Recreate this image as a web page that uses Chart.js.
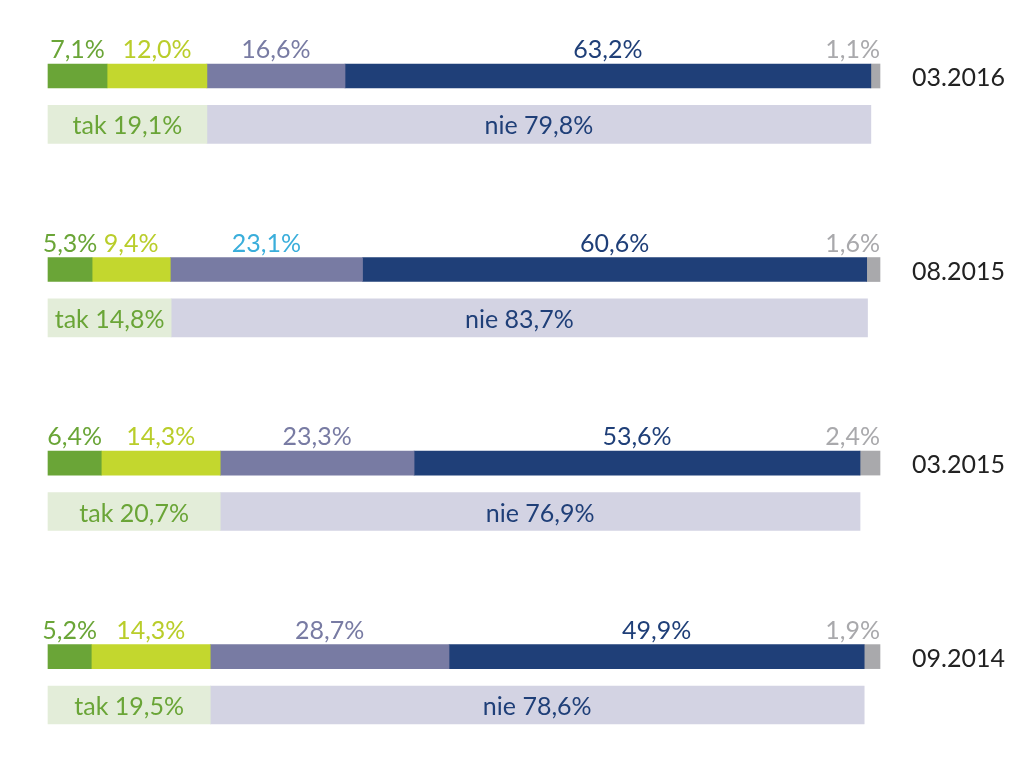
<!DOCTYPE html>
<html>
<head>
<meta charset="utf-8">
<script src="https://cdn.jsdelivr.net/npm/chart.js@4"></script>
<style>
  html, body { margin: 0; padding: 0; background: #fff; }
  #wrap { width: 1024px; height: 771px; }
</style>
</head>
<body>
<div id="wrap"><canvas id="wykres"></canvas></div>
<script>
const okresy = ['03.2016', '08.2015', '03.2015', '09.2014'];
const kat1 = [7.1, 5.3, 6.4, 5.2];
const kat2 = [12.0, 9.4, 14.3, 14.3];
const kat3 = [16.6, 23.1, 23.3, 28.7];
const kat4 = [63.2, 60.6, 53.6, 49.9];
const kat5 = [1.1, 1.6, 2.4, 1.9];
const tak = [19.1, 14.8, 20.7, 19.5];
const nie = [79.8, 83.7, 76.9, 78.6];

// 4 wiersze na okres: pasek, podsumowanie, 2 odstepy (ostatni okres bez odstepow)
const wiersze = [];
okresy.forEach((o, i) => {
  wiersze.push(o, o + ' tn');
  if (i < okresy.length - 1) wiersze.push('', '');
});
const ROW = 4;

function naPasek(arr) {
  const out = wiersze.map(() => null);
  arr.forEach((v, i) => { out[i * ROW] = v; });
  return out;
}
function naPodsum(arr) {
  const out = wiersze.map(() => null);
  arr.forEach((v, i) => { out[i * ROW + 1] = v; });
  return out;
}

const kolory = ['#6aa537', '#c3d72e', '#787ba3', '#1f3f78', '#a9a9ac'];
const kolTekst = ['#6aa537', '#b9cd2a', '#787ba3', '#1f3f78', '#a9a9ac'];
const wyjatki = { '1-2': '#3aaedb' }; // 08.2015, 23,1%

function fmt(v) { return v.toFixed(1).replace('.', ',') + '%'; }

const pasek = (dane, i) => ({
  data: naPasek(dane), backgroundColor: kolory[i], barThickness: 24,
  grupa: 'pasek', nr: i, clip: false
});

const etykiety = {
  id: 'etykiety',
  afterDatasetsDraw(chart) {
    const ctx = chart.ctx;
    ctx.save();
    ctx.font = '25px Lato';
    chart.data.datasets.forEach((ds, di) => {
      const meta = chart.getDatasetMeta(di);
      meta.data.forEach((el, idx) => {
        const v = ds.data[idx];
        if (v == null) return;
        const g = Math.floor(idx / ROW);
        const srodek = (el.x + el.base) / 2;
        if (ds.grupa === 'pasek') {
          ctx.fillStyle = wyjatki[g + '-' + ds.nr] || kolTekst[ds.nr];
          ctx.textBaseline = 'alphabetic';
          if (ds.nr === 4) {
            ctx.textAlign = 'right';
            ctx.fillText(fmt(v), el.x, el.y - 18);
          } else {
            ctx.textAlign = 'center';
            ctx.fillText(fmt(v), srodek, el.y - 18);
          }
          if (ds.nr === 4) {
            ctx.fillStyle = '#222';
            ctx.textAlign = 'left';
            ctx.textBaseline = 'middle';
            ctx.fillText(okresy[g], 912, el.y + 2);
          }
        } else {
          ctx.fillStyle = ds.nr === 0 ? '#6aa537' : '#1f3f78';
          ctx.textAlign = 'center';
          ctx.textBaseline = 'middle';
          ctx.fillText((ds.nr === 0 ? 'tak ' : 'nie ') + fmt(v), srodek, el.y + 2);
        }
      });
    });
    ctx.restore();
  }
};

new Chart(document.getElementById('wykres'), {
  type: 'bar',
  data: {
    labels: wiersze,
    datasets: [
      pasek(kat1, 0), pasek(kat2, 1), pasek(kat3, 2), pasek(kat4, 3), pasek(kat5, 4),
      { data: naPodsum(tak), backgroundColor: '#e3edd9', barThickness: 38, grupa: 'podsum', nr: 0, clip: false },
      { data: naPodsum(nie), backgroundColor: '#d3d3e3', barThickness: 38, grupa: 'podsum', nr: 1, clip: false }
    ]
  },
  options: {
    indexAxis: 'y',
    responsive: true,
    maintainAspectRatio: false,
    animation: false,
    layout: { padding: { left: 48, right: 144, top: 76, bottom: 66 } },
    scales: {
      x: { stacked: true, min: 0, max: 100, display: false },
      y: { stacked: true, offset: false, display: false }
    },
    plugins: { legend: { display: false }, tooltip: { enabled: false } }
  },
  plugins: [etykiety]
});
</script>
</body>
</html>
